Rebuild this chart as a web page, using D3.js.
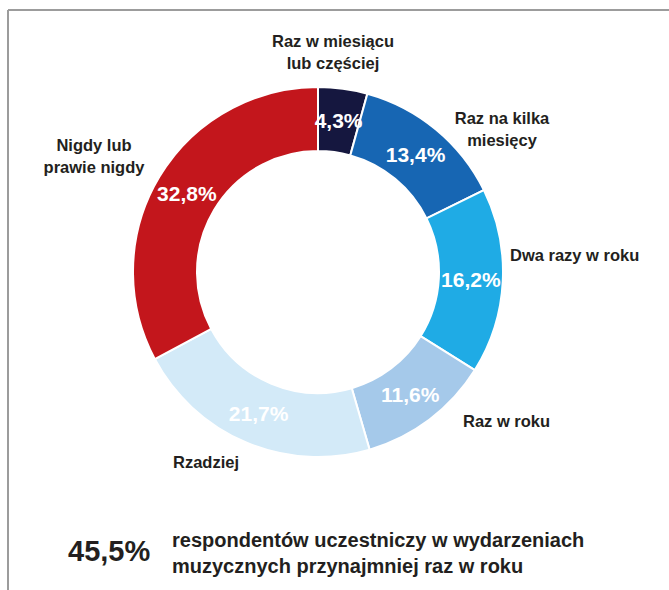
<!DOCTYPE html>
<html>
<head>
<meta charset="utf-8">
<script src="https://cdn.jsdelivr.net/npm/d3@7"></script>
<style>
  html, body { margin: 0; padding: 0; background: #fff; }
  svg { display: block; }
  text { font-family: "Liberation Sans", Arial, Helvetica, sans-serif; }
</style>
</head>
<body>
<svg id="chart" width="669" height="590"></svg>
<script>
// Frequency of attending music events (share of respondents, %)
const categories = [
  "Raz w miesiącu lub częściej",
  "Raz na kilka miesięcy",
  "Dwa razy w roku",
  "Raz w roku",
  "Rzadziej",
  "Nigdy lub prawie nigdy"
];
const values = [4.3, 13.4, 16.2, 11.6, 21.7, 32.8];
const valueLabels = ["4,3%", "13,4%", "16,2%", "11,6%", "21,7%", "32,8%"];
const colors = ["#15173f", "#1766b3", "#1fabe5", "#a5c9ea", "#d3eaf8", "#c3161c"];

// Category label lines
const labelLines = [
  ["Raz w miesiącu", "lub częściej"],
  ["Raz na kilka", "miesięcy"],
  ["Dwa razy w roku"],
  ["Raz w roku"],
  ["Rzadziej"],
  ["Nigdy lub", "prawie nigdy"]
];

const summaryValue = "45,5%";
const summaryLines = ["respondentów uczestniczy w wydarzeniach", "muzycznych przynajmniej raz w roku"];

// Layout of the outer category labels: anchor point, alignment
const labelLayout = [
  { x: 333, y: 47, anchor: "middle" },
  { x: 502, y: 124, anchor: "middle" },
  { x: 510, y: 261, anchor: "start" },
  { x: 463, y: 427, anchor: "start" },
  { x: 173, y: 468, anchor: "start" },
  { x: 94, y: 151, anchor: "middle" }
];

const svg = d3.select("#chart");
const cx = 318, cy = 272, rOuter = 185, rInner = 121;

// Frame lines along the top and left
svg.append("line").attr("x1", 8).attr("y1", 10).attr("x2", 669).attr("y2", 10)
  .attr("stroke", "#9c9c9c").attr("stroke-width", 2);
svg.append("line").attr("x1", 8).attr("y1", 10).attr("x2", 8).attr("y2", 590)
  .attr("stroke", "#9c9c9c").attr("stroke-width", 2);

const data = categories.map((c, i) => ({ category: c, value: values[i], label: valueLabels[i], i }));

const pie = d3.pie().value(d => d.value).sort(null);
const arc = d3.arc().innerRadius(rInner).outerRadius(rOuter);
const arcs = pie(data);

const g = svg.append("g").attr("transform", `translate(${cx},${cy})`);

g.selectAll("path.slice")
  .data(arcs)
  .join("path")
  .attr("class", "slice")
  .attr("d", arc)
  .attr("fill", d => colors[d.data.i])
  .attr("stroke", "#fff")
  .attr("stroke-width", 2);

g.selectAll("text.value")
  .data(arcs)
  .join("text")
  .attr("class", "value")
  .attr("transform", d => `translate(${arc.centroid(d)})`)
  .attr("text-anchor", "middle")
  .attr("dy", "0.36em")
  .attr("fill", "#fff")
  .attr("font-size", 21)
  .attr("font-weight", "bold")
  .text(d => d.data.label);

// Category labels
svg.selectAll("text.cat")
  .data(labelLines)
  .join("text")
  .attr("class", "cat")
  .attr("x", (d, i) => labelLayout[i].x)
  .attr("y", (d, i) => labelLayout[i].y)
  .attr("text-anchor", (d, i) => labelLayout[i].anchor)
  .attr("fill", "#231f20")
  .attr("font-size", 16.5)
  .attr("font-weight", "bold")
  .selectAll("tspan")
  .data((d, i) => d.map(line => ({ line, i })))
  .join("tspan")
  .attr("x", d => labelLayout[d.i].x)
  .attr("dy", (d, j) => j === 0 ? 0 : 22)
  .text(d => d.line);

// Summary
svg.append("text")
  .attr("x", 68).attr("y", 561)
  .attr("fill", "#231f20")
  .attr("font-size", 29)
  .attr("font-weight", "bold")
  .text(summaryValue);

svg.append("text")
  .attr("x", 172).attr("y", 547)
  .attr("fill", "#231f20")
  .attr("font-size", 20)
  .attr("font-weight", "bold")
  .selectAll("tspan")
  .data(summaryLines)
  .join("tspan")
  .attr("x", 172)
  .attr("dy", (d, j) => j === 0 ? 0 : 26)
  .text(d => d);
</script>
</body>
</html>
